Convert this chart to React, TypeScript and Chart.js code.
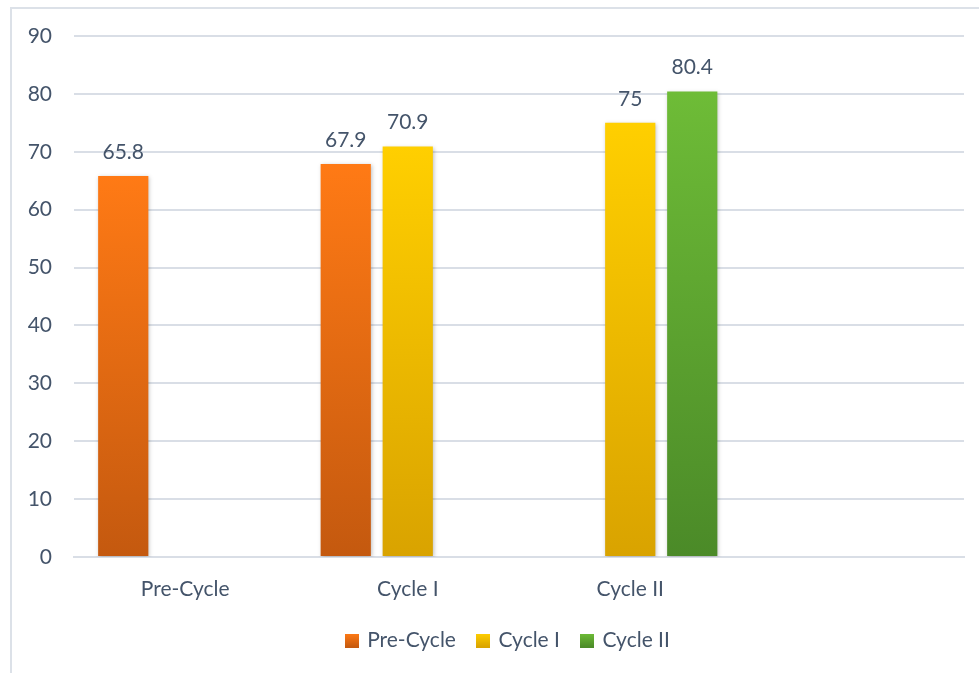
import React, { useEffect, useRef } from "react";
import { Chart, registerables } from "chart.js";

Chart.register(...registerables);

const categories = ["Pre-Cycle", "Cycle I", "Cycle II", ""];
const preCycleValues = [65.8, 67.9, null, null];
const cycleIValues = [null, 70.9, 75, null];
const cycleIIValues = [null, null, 80.4, null];
const seriesNames = ["Pre-Cycle", "Cycle I", "Cycle II"];
const yTicksMax = 90;
const yTicksStep = 10;

const TEXT = "#44546A";
const FONT = "Lato";
const FS = 21;
const gradStops = [
  ["#FF7A15", "#C4590F"],
  ["#FFCF00", "#D9A300"],
  ["#6EBC37", "#4B8A28"],
];

function makeSwatch(top: string, bottom: string) {
  const c = document.createElement("canvas");
  c.width = 14;
  c.height = 14;
  const g = c.getContext("2d")!;
  const gr = g.createLinearGradient(0, 0, 0, 14);
  gr.addColorStop(0, top);
  gr.addColorStop(1, bottom);
  g.fillStyle = gr;
  g.fillRect(0, 0, 14, 14);
  return c;
}

const labelPlugin = {
  id: "valueLabels",
  afterDatasetsDraw(chart: any) {
    const ctx = chart.ctx;
    ctx.save();
    ctx.font = `${FS}px ${FONT}`;
    ctx.fillStyle = TEXT;
    ctx.textAlign = "center";
    ctx.textBaseline = "middle";
    chart.data.datasets.forEach((ds: any, i: number) => {
      const meta = chart.getDatasetMeta(i);
      meta.data.forEach((el: any, j: number) => {
        const v = ds.data[j];
        if (v === null || v === undefined) return;
        ctx.fillText(String(v), el.x, el.y - 24);
      });
    });
    ctx.restore();
  },
};

const shadowPlugin = {
  id: "barShadow",
  beforeDatasetsDraw(chart: any) {
    const ctx = chart.ctx;
    ctx.save();
    ctx.shadowColor = "rgba(0,0,0,0.25)";
    ctx.shadowBlur = 4;
    ctx.shadowOffsetX = 1;
    ctx.shadowOffsetY = 1;
  },
  afterDatasetsDraw(chart: any) {
    chart.ctx.restore();
  },
};

export default function App() {
  const ref = useRef<HTMLCanvasElement | null>(null);
  useEffect(() => {
    if (!ref.current) return;
    const seriesData = [preCycleValues, cycleIValues, cycleIIValues];
    const chart = new Chart(ref.current, {
      type: "bar",
      data: {
        labels: categories,
        datasets: seriesData.map((d, i) => ({
          label: seriesNames[i],
          data: d as any,
          backgroundColor: (ctx: any) => {
            const ch = ctx.chart;
            const ys = ch.scales?.y;
            if (!ys || ctx.raw === null || ctx.raw === undefined || ctx.type !== "data") return gradStops[i][0];
            const top = ys.getPixelForValue(ctx.raw);
            const bot = ys.getPixelForValue(0);
            if (!isFinite(top) || !isFinite(bot) || top === bot) return gradStops[i][0];
            const g = ch.ctx.createLinearGradient(0, top, 0, bot);
            g.addColorStop(0, gradStops[i][0]);
            g.addColorStop(1, gradStops[i][1]);
            return g;
          },
          pointStyle: makeSwatch(gradStops[i][0], gradStops[i][1]) as any,
          categoryPercentage: 0.836,
          barPercentage: 0.81,
          skipNull: false,
        })),
      },
      options: {
        animation: false,
        responsive: false,
        maintainAspectRatio: false,
        layout: { padding: { left: 10, right: 15, top: 36, bottom: 12 } },
        plugins: {
          legend: {
            position: "bottom",
            labels: {
              usePointStyle: true,
              font: { family: FONT, size: FS },
              color: TEXT,
              padding: 22,
              boxWidth: 10,
              boxHeight: 14,
              generateLabels: (chart: any) => {
                const items = Chart.defaults.plugins.legend.labels.generateLabels(chart);
                items.unshift({
                  text: "",
                  fillStyle: "rgba(0,0,0,0)",
                  strokeStyle: "rgba(0,0,0,0)",
                  fontColor: "rgba(0,0,0,0)",
                  lineWidth: 0,
                  pointStyle: "rect",
                  hidden: false,
                  datasetIndex: -1,
                } as any);
                return items;
              },
            },
          },
          tooltip: { enabled: false },
        },
        scales: {
          x: {
            grid: { display: false, drawTicks: false },
            border: { display: true, color: "#D9DEE6", width: 2 },
            ticks: { font: { family: FONT, size: FS }, color: TEXT, padding: 20 },
            afterFit: (s: any) => { s.height = 51; },
          },
          y: {
            min: 0,
            max: yTicksMax,
            ticks: { stepSize: yTicksStep, font: { family: FONT, size: FS }, color: TEXT, padding: 22 },
            grid: { color: "#D9DEE6", lineWidth: 2, drawTicks: false },
            border: { display: false },
            afterFit: (s: any) => { s.width = 64; },
          },
        },
      },
      plugins: [shadowPlugin, labelPlugin],
    });
    return () => chart.destroy();
  }, []);
  return (
    <div style={{ position: "fixed", left: 0, top: 0, width: 979, height: 673, background: "#fff", overflow: "hidden" }}>
      <div style={{ position: "absolute", left: 10, top: 7, width: 985, height: 690, border: "2px solid #DCE1E8", boxSizing: "border-box" }} />
      <canvas ref={ref} width={979} height={673} style={{ position: "absolute", left: 0, top: 0 }} />
    </div>
  );
}
